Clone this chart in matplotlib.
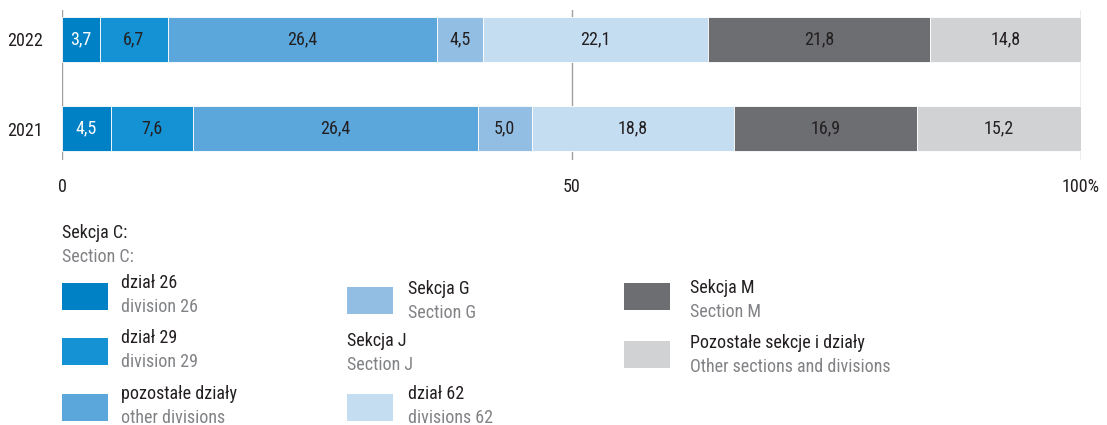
import matplotlib
matplotlib.use("Agg")
import matplotlib.pyplot as plt
import matplotlib.patches as patches
from matplotlib import font_manager

# ==========================================
# data
# ==========================================
years = ["2021", "2022"]
series_pl = ["dział 26", "dział 29", "pozostałe działy", "Sekcja G",
             "dział 62", "Sekcja M", "Pozostałe sekcje i działy"]
series_en = ["division 26", "division 29", "other divisions", "Section G",
             "divisions 62", "Section M", "Other sections and divisions"]
values_2021 = [4.5, 7.6, 26.4, 5.0, 18.8, 16.9, 15.2]
values_2022 = [3.7, 6.7, 26.4, 4.5, 22.1, 21.8, 14.8]
x_ticks = [0, 50, 100]
x_tick_labels = ["0", "50", "100%"]

colors = ["#0081C6", "#1592D4", "#5BA7DC", "#93BEE4",
          "#C5DDF1", "#6D6E71", "#D1D2D4"]
label_colors = ["white"] + ["#231F20"] * 6

# font: pick a condensed face if one is there
entries = font_manager.fontManager.ttflist
names = {f.name for f in entries}
STRETCH = "normal"
FS = 11.5
if "Roboto Condensed" in names:
    FONT = ["Roboto Condensed", "DejaVu Sans"]
    FS = 13
elif "Liberation Sans Narrow" in names:
    FONT = ["Liberation Sans Narrow", "DejaVu Sans"]
    FS = 12.5
elif any(f.name == "DejaVu Sans" and f.stretch == "condensed" for f in entries):
    FONT = ["DejaVu Sans"]
    STRETCH = "condensed"
    FS = 12.5
else:
    FONT = ["DejaVu Sans"]
plt.rcParams["font.family"] = FONT
plt.rcParams["font.stretch"] = STRETCH

W, H = 1107, 425
fig = plt.figure(figsize=(W / 100, H / 100), dpi=100)

# axes: x 62..1081 px, y 10..160 px (from top)
ax = fig.add_axes([62 / W, 1 - 160 / H, (1081 - 62) / W, 150 / H])
bar_h = 45 / 89
ax.set_xlim(0, 100)
ax.set_ylim(-31.5 / 89, 1 + 29.5 / 89)

for x in x_ticks:
    ax.axvline(x, color="#9D9FA2", lw=1.0, zorder=1)

# 100% stacked: each row is scaled to its own total
for yi, vals in enumerate([values_2021, values_2022]):
    total = sum(vals)
    left = 0.0
    for i, v in enumerate(vals):
        w = v / total * 100
        ax.barh(yi, w, left=left, height=bar_h, color=colors[i],
                edgecolor="white", linewidth=0.6, zorder=2)
        ax.text(left + w / 2, yi, f"{v:.1f}".replace(".", ","),
                ha="center", va="center", fontsize=FS,
                color=label_colors[i], zorder=3)
        left += w

ax.set_yticks([0, 1])
ax.set_yticklabels(years, fontsize=FS, color="#231F20")
ax.set_xticks(x_ticks)
ax.set_xticklabels(x_tick_labels, fontsize=FS, color="#231F20")
ax.tick_params(length=0)
ax.tick_params(axis="x", pad=13)
ax.tick_params(axis="y", pad=14)
for s in ax.spines.values():
    s.set_visible(False)


# ==========================================
# legend (manual, two-line labels)
# ==========================================
def px(x, y):
    return x / W, 1 - y / H


def two_line(x, y_top, pl, en):
    fig.text(*px(x, y_top), pl, ha="left", va="center",
             fontsize=FS, color="#231F20")
    fig.text(*px(x, y_top + 24), en, ha="left", va="center",
             fontsize=FS, color="#808285")


def swatch(x, y_top, color):
    fig.patches.append(patches.Rectangle(
        px(x, y_top + 27), 46 / W, 27 / H, transform=fig.transFigure,
        facecolor=color, edgecolor="none"))


two_line(62, 233, "Sekcja C:", "Section C:")

col1 = [(0, 283), (1, 338), (2, 394)]
for i, y in col1:
    swatch(62, y, colors[i])
    two_line(121, y, series_pl[i], series_en[i])

swatch(347, 287, colors[3])
two_line(408, 289, series_pl[3], series_en[3])
two_line(347, 341, "Sekcja J", "Section J")
swatch(347, 394, colors[4])
two_line(408, 394, series_pl[4], series_en[4])

swatch(624, 283, colors[5])
two_line(690, 288, series_pl[5], series_en[5])
swatch(624, 341, colors[6])
two_line(690, 343, series_pl[6], series_en[6])

fig.savefig("out.png", dpi=100)
